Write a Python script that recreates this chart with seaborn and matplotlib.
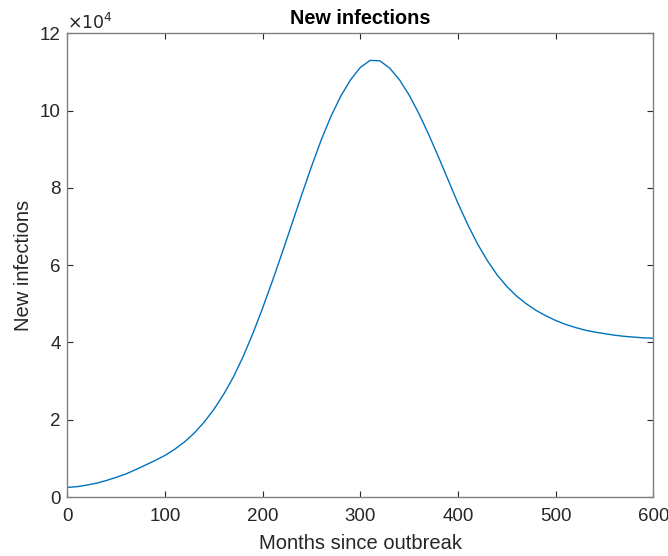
import numpy as np
import pandas as pd
import matplotlib
matplotlib.use("Agg")
import matplotlib.pyplot as plt
from matplotlib.ticker import FuncFormatter
import seaborn as sns

# values (new infections)
months = [0, 10, 20, 30, 40, 50, 60, 70, 80, 90,
          100, 110, 120, 130, 140, 150, 160, 170, 180, 190,
          200, 210, 220, 230, 240, 250, 260, 270, 280, 290,
          300, 310, 320, 330, 340, 350, 360, 370, 380, 390,
          400, 410, 420, 430, 440, 450, 460, 470, 480, 490,
          500, 510, 520, 530, 540, 550, 560, 570, 580, 590, 600]
infections = [2500, 2700, 3100, 3600, 4300, 5100, 6000, 7100, 8300, 9500,
              10800, 12400, 14300, 16600, 19400, 22700, 26600, 31100, 36400, 42400,
              49000, 56000, 63300, 70800, 78300, 85600, 92500, 98600, 103800, 108000,
              111200, 113000, 112900, 111000, 108000, 104000, 99200, 93800, 88000, 82000,
              76000, 70500, 65500, 61200, 57500, 54500, 52000, 50000, 48300, 46900,
              45700, 44700, 43900, 43200, 42700, 42300, 41900, 41600, 41400, 41200, 41100]

df = pd.DataFrame({"month": months, "new": infections})

sns.set_style("white")
plt.rcParams['font.family'] = ['Liberation Sans', 'DejaVu Sans']

fig = plt.figure(figsize=(6.68, 5.56), dpi=100)
ax = fig.add_axes([0.101, 0.106, 0.877, 0.834])

sns.lineplot(data=df, x="month", y="new", ax=ax, color="#0072BD", linewidth=1.0)

ax.set_xlim(0, 600)
ax.set_ylim(0, 120000)
ax.set_xticks(np.arange(0, 601, 100))
ax.set_yticks(np.arange(0, 120001, 20000))
ax.yaxis.set_major_formatter(FuncFormatter(lambda v, p: f"{v/1e4:g}"))

axcol = "#262626"
for s in ax.spines.values():
    s.set_color("#808080")
    s.set_linewidth(1.0)
ax.tick_params(direction="in", length=4, width=0.8, color=axcol,
               labelsize=13.5, labelcolor=axcol, top=True, right=True,
               bottom=True, left=True, pad=5)
ax.tick_params(axis="x", pad=8)

ax.set_xlabel("Months since outbreak", fontsize=14.5, color=axcol)
ax.set_ylabel("New infections", fontsize=14.5, color=axcol)
ax.xaxis.set_label_coords(0.5, -0.080)
ax.yaxis.set_label_coords(-0.058, 0.5)
ax.set_title("New infections", fontsize=14.3, fontweight="bold", color="black", pad=7)
ax.text(0.0, 1.004, r"$\times10^{4}$", transform=ax.transAxes, fontsize=12.5,
        color=axcol, ha="left", va="bottom")

fig.savefig("out.png", dpi=100)
